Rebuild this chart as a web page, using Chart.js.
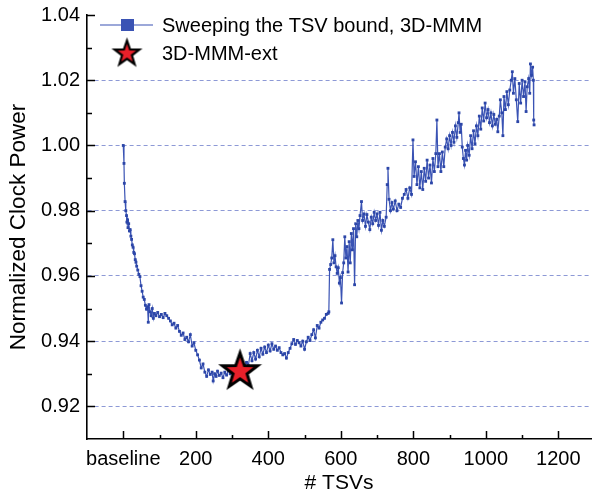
<!DOCTYPE html>
<html>
<head>
<meta charset="utf-8">
<script src="https://cdn.jsdelivr.net/npm/chart.js@4/dist/chart.umd.min.js"></script>
<style>
  body { margin: 0; background: #fff; }
  #wrap { width: 592px; height: 495px; }
</style>
</head>
<body>
<div id="wrap"><canvas id="clockGraph"></canvas></div>
<script>
// sweep of the TSV bound (3D-MMM)
var tsvs = [
  0, 2, 3, 5, 7, 9, 10, 12, 13, 15,
  17, 19, 21, 23, 25, 27, 29, 31, 33, 35,
  37, 40, 43, 46, 49, 52, 55, 58, 61, 64,
  67, 69, 71, 74, 77, 80, 83, 86, 90, 95,
  100, 105, 110, 115, 120, 125, 130, 135, 140, 145,
  150, 155, 160, 165, 170, 175, 180, 185, 190, 195,
  200, 205, 210, 215, 220, 225, 230, 235, 240, 245,
  248, 252, 256, 260, 265, 270, 275, 280, 285, 290,
  295, 300, 305, 310, 315, 320, 325, 330, 335, 340,
  345, 350, 355, 360, 365, 370, 375, 380, 385, 390,
  395, 400, 405, 410, 415, 420, 425, 430, 435, 440,
  445, 450, 455, 460, 465, 470, 475, 480, 485, 490,
  495, 500, 505, 510, 515, 520, 525, 530, 535, 540,
  545, 550, 555, 560, 565, 567, 569, 572, 575, 578,
  581, 584, 587, 590, 593, 596, 599, 602, 605, 608,
  611, 614, 617, 620, 623, 626, 629, 632, 635, 638,
  641, 644, 647, 650, 653, 657, 660, 664, 668, 672,
  676, 680, 684, 688, 692, 696, 700, 704, 708, 712,
  716, 720, 725, 728, 730, 733, 737, 741, 745, 750,
  755, 760, 765, 770, 775, 780, 785, 790, 795, 799,
  802, 806, 810, 814, 818, 822, 826, 830, 834, 838,
  842, 846, 850, 854, 858, 862, 865, 868, 872, 876,
  880, 884, 888, 892, 896, 900, 904, 908, 912, 916,
  920, 924, 926, 929, 932, 935, 938, 941, 944, 947,
  950, 954, 958, 962, 966, 970, 974, 978, 982, 986,
  990, 994, 998, 1002, 1006, 1010, 1014, 1018, 1022, 1026,
  1030, 1033, 1037, 1040, 1044, 1047, 1050, 1054, 1058, 1062,
  1066, 1070, 1073, 1076, 1080, 1084, 1088, 1092, 1096, 1100,
  1104, 1108, 1111, 1114, 1118, 1121, 1123, 1126, 1129, 1131,
  1132, 1133
];
var clockPower = [
  1.0000, 0.9945, 0.9884, 0.9828, 0.9800, 0.9785, 0.9765, 0.9772, 0.9748, 0.9760,
  0.9738, 0.9742, 0.9722, 0.9712, 0.9695, 0.9688, 0.9672, 0.9668, 0.9650, 0.9642,
  0.9630, 0.9618, 0.9605, 0.9598, 0.9570, 0.9553, 0.9535, 0.9528, 0.9510, 0.9498,
  0.9505, 0.9458, 0.9512, 0.9490, 0.9478, 0.9500, 0.9470, 0.9485, 0.9478, 0.9488,
  0.9475, 0.9482, 0.9472, 0.9485, 0.9478, 0.9470, 0.9462, 0.9450, 0.9455, 0.9440,
  0.9448, 0.9430, 0.9418, 0.9425, 0.9405, 0.9412, 0.9398, 0.9420, 0.9385, 0.9395,
  0.9372, 0.9358, 0.9342, 0.9318, 0.9330, 0.9305, 0.9292, 0.9312, 0.9298, 0.9305,
  0.9278, 0.9300, 0.9292, 0.9308, 0.9295, 0.9302, 0.9288, 0.9305, 0.9296, 0.9310,
  0.9300, 0.9315, 0.9305, 0.9320, 0.9312, 0.9322, 0.9315, 0.9328, 0.9318, 0.9335,
  0.9325, 0.9362, 0.9340, 0.9365, 0.9345, 0.9372, 0.9352, 0.9378, 0.9360, 0.9382,
  0.9365, 0.9388, 0.9370, 0.9392, 0.9375, 0.9385, 0.9372, 0.9380, 0.9365, 0.9358,
  0.9362, 0.9348, 0.9365, 0.9378, 0.9392, 0.9405, 0.9390, 0.9402, 0.9395, 0.9385,
  0.9400, 0.9375, 0.9398, 0.9412, 0.9402, 0.9420, 0.9435, 0.9410, 0.9448, 0.9440,
  0.9458, 0.9465, 0.9470, 0.9482, 0.9485, 0.9490, 0.9620, 0.9635, 0.9655, 0.9711,
  0.9640, 0.9662, 0.9628, 0.9608, 0.9625, 0.9578, 0.9595, 0.9517, 0.9610, 0.9640,
  0.9720, 0.9655, 0.9690, 0.9612, 0.9705, 0.9640, 0.9730, 0.9680, 0.9745, 0.9573,
  0.9760, 0.9720, 0.9770, 0.9745, 0.9785, 0.9828, 0.9770, 0.9790, 0.9752, 0.9788,
  0.9765, 0.9742, 0.9780, 0.9760, 0.9795, 0.9770, 0.9790, 0.9755, 0.9795, 0.9740,
  0.9770, 0.9752, 0.9780, 0.9880, 0.9930, 0.9835, 0.9800, 0.9825, 0.9805, 0.9830,
  0.9800, 0.9820, 0.9810, 0.9838, 0.9850, 0.9865, 0.9838, 0.9870, 0.9850, 1.0017,
  0.9905, 0.9950, 0.9880, 0.9935, 0.9870, 0.9920, 0.9865, 0.9930, 0.9890, 0.9955,
  0.9900, 0.9940, 0.9885, 0.9960, 0.9920, 0.9975, 1.0078, 0.9935, 0.9975, 0.9920,
  0.9980, 0.9935, 0.9995, 1.0020, 0.9990, 1.0030, 1.0000, 1.0040, 1.0010, 1.0060,
  1.0025, 1.0070, 1.0100, 1.0040, 1.0065, 0.9995, 0.9960, 0.9940, 0.9985, 0.9955,
  1.0000, 0.9970, 1.0030, 0.9990, 1.0045, 1.0005, 1.0060, 1.0030, 1.0090, 1.0050,
  1.0115, 1.0075, 1.0130, 1.0085, 1.0110, 1.0070, 1.0100, 1.0060, 1.0095, 1.0065,
  1.0080, 1.0042, 1.0090, 1.0140, 1.0100, 1.0030, 1.0150, 1.0110, 1.0165, 1.0125,
  1.0170, 1.0200, 1.0226, 1.0160, 1.0205, 1.0140, 1.0073, 1.0190, 1.0130, 1.0200,
  1.0150, 1.0195, 1.0104, 1.0180, 1.0205, 1.0160, 1.0250, 1.0215, 1.0240, 1.0200,
  1.0078, 1.0063
];
// 3D-MMM-ext result (star)
var extTsvs = [322];
var extPower = [0.9310];

var xTickValues = [0, 200, 400, 600, 800, 1000, 1200];
var xMinorValues = [100, 300, 500, 700, 900, 1100];
var yTickValues = [0.92, 0.94, 0.96, 0.98, 1.00, 1.02, 1.04];
var yMinorValues = [0.93, 0.95, 0.97, 0.99, 1.01, 1.03];

var seriesLabels = ["Sweeping the TSV bound, 3D-MMM", "3D-MMM-ext"];

var blue = "#3a53b4";
var fontName = "'Liberation Sans', Arial, sans-serif";

function makeStar(r, lw) {
    var c = document.createElement("canvas");
    var s = Math.ceil(2 * r + 2 * lw + 2);
    c.width = s; c.height = s;
    var g = c.getContext("2d");
    var cx = s / 2, cy = s / 2 + r * 0.05;
    g.beginPath();
    for (var i = 0; i < 10; i++) {
        var rr = (i % 2 === 0) ? r : r * 0.4;
        var a = -Math.PI / 2 + i * Math.PI / 5;
        var px = cx + rr * Math.cos(a), py = cy + rr * Math.sin(a);
        if (i === 0) g.moveTo(px, py); else g.lineTo(px, py);
    }
    g.closePath();
    g.fillStyle = "#e8202a";
    g.fill();
    g.lineWidth = lw;
    g.lineJoin = "miter";
    g.strokeStyle = "#000";
    g.stroke();
    return c;
}
var bigStar = makeStar(18.5, 3);
var smallStar = makeStar(13, 2.2);

var sweepPoints = [];
for (var i = 0; i < tsvs.length; i++) sweepPoints.push({x: tsvs[i], y: clockPower[i]});
var extPoints = [];
for (var j = 0; j < extTsvs.length; j++) extPoints.push({x: extTsvs[j], y: extPower[j]});

// inward tick marks + legend box in the upper left corner
var decorPlugin = {
    id: "decor",
    afterDraw: function(chart) {
        var ctx = chart.ctx, a = chart.chartArea;
        var x = chart.scales.x, y = chart.scales.y;
        ctx.save();
        ctx.strokeStyle = "#000";
        ctx.lineWidth = 1.5;
        ctx.beginPath();
        xTickValues.forEach(function(v) {
            var p = Math.round(x.getPixelForValue(v)) + 0.5;
            ctx.moveTo(p, a.bottom); ctx.lineTo(p, a.bottom - 8);
        });
        xMinorValues.forEach(function(v) {
            var p = Math.round(x.getPixelForValue(v)) + 0.5;
            ctx.moveTo(p, a.bottom); ctx.lineTo(p, a.bottom - 4);
        });
        yTickValues.forEach(function(v) {
            var p = Math.round(y.getPixelForValue(v)) + 0.5;
            ctx.moveTo(a.left, p); ctx.lineTo(a.left + 8, p);
        });
        yMinorValues.forEach(function(v) {
            var p = Math.round(y.getPixelForValue(v)) + 0.5;
            ctx.moveTo(a.left, p); ctx.lineTo(a.left + 5, p);
        });
        ctx.stroke();

        // legend
        ctx.strokeStyle = blue;
        ctx.lineWidth = 1.2;
        ctx.beginPath();
        ctx.moveTo(100, 25); ctx.lineTo(153, 25);
        ctx.stroke();
        ctx.fillStyle = blue;
        ctx.fillRect(121, 19, 13, 12);
        ctx.drawImage(smallStar, 127 - smallStar.width / 2, 53 - smallStar.height / 2);
        ctx.fillStyle = "#000";
        ctx.font = "20px " + fontName;
        ctx.textBaseline = "middle";
        ctx.textAlign = "left";
        ctx.fillText(seriesLabels[0], 162, 26);
        ctx.fillText(seriesLabels[1], 162, 54);
        ctx.restore();
    }
};

var clockConfig = {
    type: "scatter",
    data: {
        datasets: [{
            label: seriesLabels[1],
            data: extPoints,
            pointStyle: bigStar,
            pointRadius: 19,
            showLine: false,
            order: 0
        }, {
            label: seriesLabels[0],
            data: sweepPoints,
            showLine: true,
            borderColor: blue,
            borderWidth: 1.2,
            backgroundColor: blue,
            pointStyle: "rect",
            pointRadius: 2,
            pointBorderWidth: 0,
            pointBackgroundColor: "#2c46a8",
            tension: 0,
            order: 1
        }]
    },
    options: {
        responsive: true,
        maintainAspectRatio: false,
        animation: false,
        layout: { autoPadding: false, padding: { top: 15, right: 1, left: 0, bottom: 0 } },
        plugins: {
            legend: { display: false },
            tooltip: { enabled: false }
        },
        scales: {
            x: {
                type: "linear",
                min: -100,
                max: 1290,
                afterBuildTicks: function(scale) {
                    scale.ticks = xTickValues.map(function(v) { return {value: v}; });
                },
                afterFit: function(scale) {
                    scale.height = 56;
                    scale.paddingLeft = 0;
                    scale.paddingRight = 0;
                },
                ticks: {
                    color: "#000",
                    padding: 8,
                    maxRotation: 0,
                    autoSkip: false,
                    font: { family: fontName, size: 20 },
                    callback: function(v) { return v === 0 ? "baseline" : String(v); }
                },
                grid: { display: true, color: "rgba(0,0,0,0)", drawTicks: false },
                border: { display: true, color: "#000", width: 1.6 },
                title: {
                    display: true,
                    text: "# TSVs",
                    color: "#000",
                    font: { family: fontName, size: 21, lineHeight: 1.1 },
                    padding: { top: 0, bottom: 0 }
                }
            },
            y: {
                type: "linear",
                min: 0.91,
                max: 1.04,
                afterBuildTicks: function(scale) {
                    scale.ticks = yTickValues.map(function(v) { return {value: v}; });
                },
                afterFit: function(scale) {
                    scale.width = 87;
                    scale.paddingTop = 0;
                    scale.paddingBottom = 0;
                },
                ticks: {
                    color: "#000",
                    padding: 7,
                    font: { family: fontName, size: 20 },
                    callback: function(v) { return Number(v).toFixed(2); }
                },
                grid: {
                    drawTicks: false,
                    lineWidth: 1,
                    color: function(c) {
                        var v = c.tick ? c.tick.value : 0;
                        return (v > 0.915 && v < 1.03) ? "#8d99d6" : "rgba(0,0,0,0)";
                    }
                },
                border: { display: true, color: "#000", width: 1.6, dash: [4, 3] },
                title: {
                    display: true,
                    text: "Normalized Clock Power",
                    color: "#000",
                    font: { family: fontName, size: 22.5, lineHeight: 1.2 },
                    padding: { top: 5, bottom: 0 }
                }
            }
        }
    },
    plugins: [decorPlugin]
};

var clockCtx = document.getElementById("clockGraph");
var clockChart = new Chart(clockCtx, clockConfig);
</script>
</body>
</html>
